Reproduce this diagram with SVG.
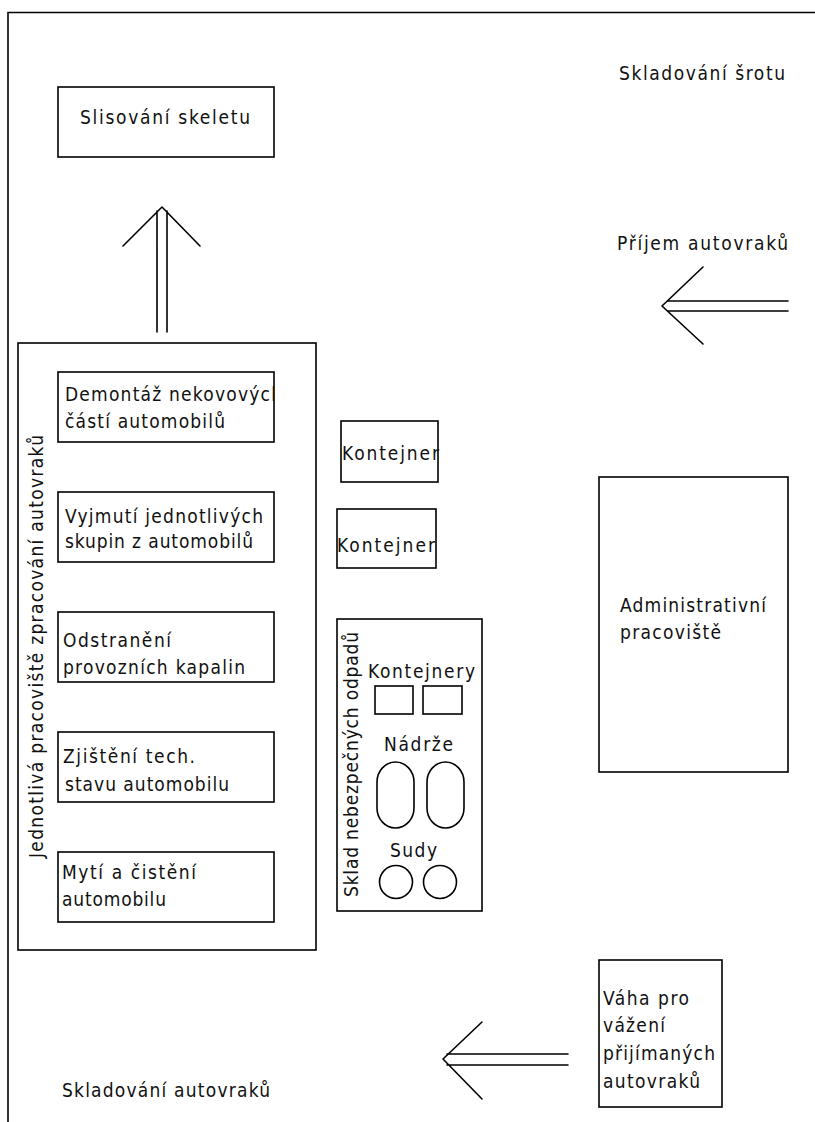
<svg xmlns="http://www.w3.org/2000/svg" width="815" height="1122" viewBox="0 0 815 1122">
<style>
.b{fill:none;stroke:#000;stroke-width:1.6}
.l{fill:none;stroke:#000;stroke-width:1.6;stroke-linecap:round;stroke-linejoin:round}
text{font-family:"DejaVu Sans Condensed","DejaVu Sans",sans-serif;font-size:19px;fill:#111}
</style>
<defs>
<clipPath id="cd"><rect x="58" y="372" width="216" height="70"/></clipPath>
</defs>
<rect width="815" height="1122" fill="#fff"/>
<path class="b" d="M8,1122 V12.5 H815"/>
<g id="connectors">
<path class="l" d="M157,332 V211 M167,332 V211 M123,246 L162,207 L200,246"/>
<path class="l" d="M668,301 H788 M668,311 H788 M703,267 L662,306 L703,344"/>
<path class="l" d="M447,1054 H568 M447,1065 H568 M482,1022 L443,1059 L482,1099"/>
</g>
<g id="skladovani-srotu"><text x="619" y="80" textLength="166" lengthAdjust="spacing">Skladování šrotu</text></g>
<g id="slisovani"><rect class="b" x="58" y="87" width="216" height="70"/><text x="80" y="124" textLength="170" lengthAdjust="spacing">Slisování skeletu</text></g>
<g id="prijem"><text x="617" y="250" textLength="171" lengthAdjust="spacing">Příjem autovraků</text></g>
<g id="pracoviste">
<rect class="b" x="18" y="343" width="298" height="607"/>
<text transform="translate(43,858) rotate(-90)" textLength="423" lengthAdjust="spacing">Jednotlivá pracoviště zpracování autovraků</text>
</g>
<g id="demontaz"><rect class="b" x="58" y="372" width="216" height="70"/><text clip-path="url(#cd)" x="65" y="401" textLength="217" lengthAdjust="spacing">Demontáž nekovových</text><text x="65" y="428" textLength="160" lengthAdjust="spacing">částí automobilů</text></g>
<g id="vyjmuti"><rect class="b" x="58" y="492" width="216" height="70"/><text x="65" y="523" textLength="198" lengthAdjust="spacing">Vyjmutí jednotlivých</text><text x="65" y="548" textLength="188" lengthAdjust="spacing">skupin z automobilů</text></g>
<g id="odstraneni"><rect class="b" x="58" y="612" width="216" height="70"/><text x="63" y="647" textLength="108" lengthAdjust="spacing">Odstranění</text><text x="63" y="674" textLength="182" lengthAdjust="spacing">provozních kapalin</text></g>
<g id="zjisteni"><rect class="b" x="58" y="732" width="216" height="70"/><text x="63" y="763" textLength="132" lengthAdjust="spacing">Zjištění tech.</text><text x="65" y="791" textLength="164" lengthAdjust="spacing">stavu automobilu</text></g>
<g id="myti"><rect class="b" x="58" y="852" width="216" height="70"/><text x="62" y="879" textLength="134" lengthAdjust="spacing">Mytí a čistění</text><text x="62" y="906" textLength="104" lengthAdjust="spacing">automobilu</text></g>
<g id="kontejner1"><rect class="b" x="341" y="421" width="97" height="61"/><text x="342" y="460" textLength="97" lengthAdjust="spacing">Kontejner</text></g>
<g id="kontejner2"><rect class="b" x="337" y="509" width="99" height="59"/><text x="337" y="552" textLength="98" lengthAdjust="spacing">Kontejner</text></g>
<g id="sklad">
<rect class="b" x="337" y="619" width="145" height="292"/>
<text transform="translate(358,897) rotate(-90)" textLength="265" lengthAdjust="spacing">Sklad nebezpečných odpadů</text>
<text x="368" y="678" textLength="107" lengthAdjust="spacing">Kontejnery</text>
<rect class="b" x="375" y="686" width="38" height="28"/>
<rect class="b" x="423" y="686" width="39" height="28"/>
<text x="384" y="751" textLength="69" lengthAdjust="spacing">Nádrže</text>
<rect class="b" x="377" y="762" width="37" height="66" rx="18.5" ry="20"/>
<rect class="b" x="427" y="762" width="37" height="66" rx="18.5" ry="20"/>
<text x="390" y="857" textLength="47" lengthAdjust="spacing">Sudy</text>
<circle class="b" cx="396" cy="882" r="16.5"/>
<circle class="b" cx="440" cy="882" r="16.5"/>
</g>
<g id="admin"><rect class="b" x="599" y="477" width="189" height="295"/><text x="620" y="612" textLength="146" lengthAdjust="spacing">Administrativní</text><text x="620" y="639" textLength="101" lengthAdjust="spacing">pracoviště</text></g>
<g id="vaha"><rect class="b" x="599" y="960" width="123" height="147"/><text x="603" y="1005" textLength="86" lengthAdjust="spacing">Váha pro</text><text x="603" y="1032" textLength="62" lengthAdjust="spacing">vážení</text><text x="603" y="1060" textLength="112" lengthAdjust="spacing">přijímaných</text><text x="603" y="1088" textLength="97" lengthAdjust="spacing">autovraků</text></g>
<g id="skladovani-autovraku"><text x="62" y="1097" textLength="208" lengthAdjust="spacing">Skladování autovraků</text></g>
</svg>
